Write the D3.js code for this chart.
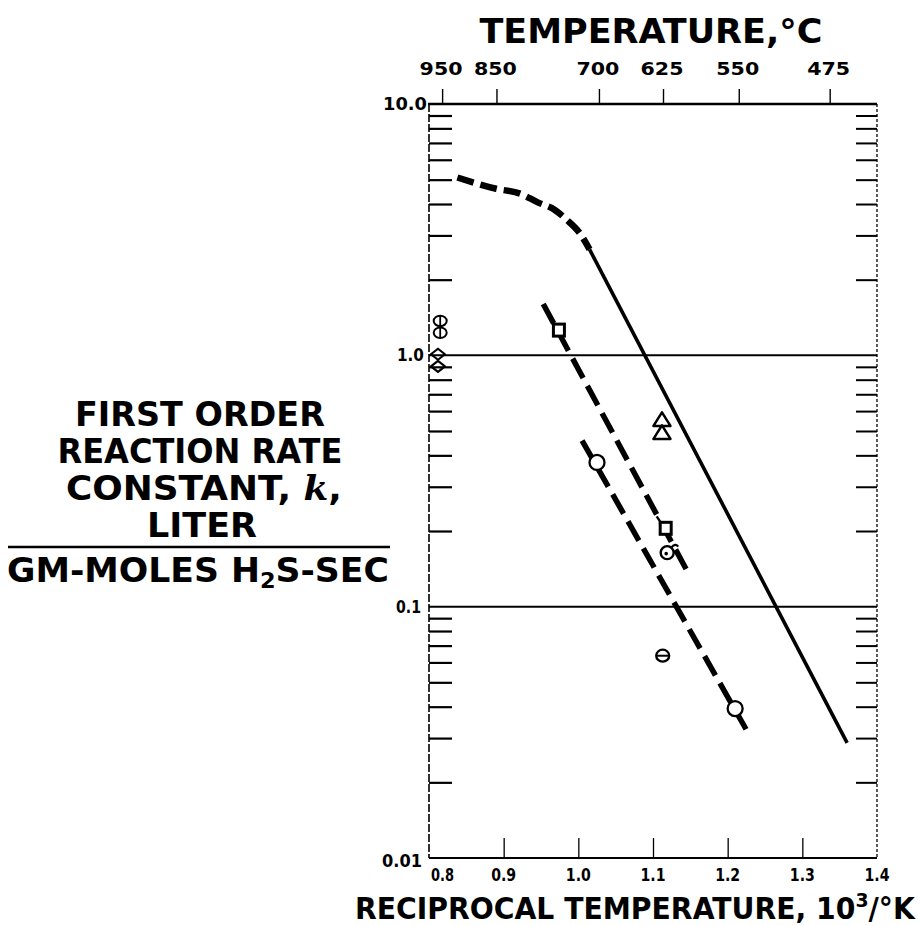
<!DOCTYPE html>
<html>
<head>
<meta charset="utf-8">
<script src="https://cdn.jsdelivr.net/npm/d3@7"></script>
<style>
  html, body { margin: 0; padding: 0; background: #fff; }
  svg { display: block; }
  text { font-family: "DejaVu Sans", Verdana, sans-serif; font-weight: bold; fill: #000; }
</style>
</head>
<body>
<svg id="chart" width="918" height="926"></svg>
<script>
// Reciprocal temperature (10^3/°K) axis and rate constant axis
const xTicks = [0.8, 0.9, 1.0, 1.1, 1.2, 1.3, 1.4];
const xTickLabels = ["0.8", "0.9", "1.0", "1.1", "1.2", "1.3", "1.4"];
const yMajor = [10, 1, 0.1, 0.01];
const yMajorLabels = ["10.0", "1.0", "0.1", "0.01"];
const tempTicksC = [950, 850, 700, 625, 550, 475];

// Correlation curves: [1000/T, k]
const solidLine = [[1.015, 2.64], [1.36, 0.0287]];
const upperDashed = [[0.838, 5.1], [0.89, 4.6], [0.922, 4.4], [0.945, 4.07], [0.969, 3.78], [0.985, 3.45], [1.002, 3.06], [1.015, 2.64]];
const middleDashed = [[0.953, 1.6], [1.149, 0.133]];
const lowerDashed = [[1.005, 0.458], [1.230, 0.0305]];

// Experimental points: [1000/T, k]
const circles = [[1.025, 0.375], [1.210, 0.0393]];
const barredCircles = [[1.113, 0.0638]];
const triangles = [[1.112, 0.551], [1.112, 0.489]];
const squares = [[0.974, 1.26], [1.117, 0.205]];
const dottedCircles = [[1.119, 0.164]];
const doubleCircles = [[0.815, 1.37], [0.815, 1.23]];
const diamonds = [[0.812, 1.01], [0.812, 0.904]];

const svg = d3.select("#chart");
svg.append("rect").attr("width", 918).attr("height", 926).attr("fill", "#fff");

const plotL = 429, plotR = 877, plotT = 104, plotB = 858;
const x = d3.scaleLinear().domain([0.8, 1.4]).range([plotL, plotR]);
const y = d3.scaleLog().domain([0.01, 10]).range([plotB, plotT]);

// minor decade ticks 2..9 in each decade
const minorTicks = [];
[0.01, 0.1, 1].forEach(d => { for (let m = 2; m <= 9; m++) minorTicks.push(+(d * m).toPrecision(3)); });

// text helper: squeeze/stretch a label to a given width
function fitLabel(g, anchorX, baseline, width, anchor) {
  const bb = g.node().getBBox();
  const sx = width / bb.width;
  let tx;
  if (anchor === "middle") tx = anchorX - (bb.x + bb.width / 2) * sx;
  else if (anchor === "end") tx = anchorX - (bb.x + bb.width) * sx;
  else tx = anchorX - bb.x * sx;
  g.attr("transform", `translate(${tx},${baseline}) scale(${sx},1)`);
}
function label(str, size, anchorX, baseline, width, anchor) {
  const g = svg.append("g");
  g.append("text").attr("font-size", size).text(str);
  fitLabel(g, anchorX, baseline, width, anchor || "middle");
  return g;
}

// ---- frame ----
const frame = svg.append("g").attr("stroke", "#000").attr("fill", "none");
frame.append("line").attr("x1", plotL - 1).attr("x2", plotR).attr("y1", plotT).attr("y2", plotT).attr("stroke-width", 2.5);
frame.append("line").attr("x1", plotL).attr("x2", plotR).attr("y1", plotB).attr("y2", plotB).attr("stroke-width", 2);
frame.append("line").attr("x1", plotL).attr("x2", plotL).attr("y1", plotT).attr("y2", plotB).attr("stroke-width", 1.6).attr("stroke-dasharray", "8,2");
frame.append("line").attr("x1", plotR).attr("x2", plotR).attr("y1", plotT).attr("y2", plotB).attr("stroke-width", 1.3).attr("stroke-dasharray", "3,2");

// horizontal rules at the decades
svg.append("g").selectAll("line").data([1, 0.1]).join("line")
  .attr("x1", plotL).attr("x2", plotR)
  .attr("y1", d => y(d)).attr("y2", d => y(d))
  .attr("stroke", "#000").attr("stroke-width", 2);

// ---- axes ----
function styleAxis(g, w) {
  g.select(".domain").remove();
  g.selectAll(".tick line").attr("stroke", "#000").attr("stroke-width", w);
  g.selectAll(".tick text").remove();
}
const leftAxis = svg.append("g").attr("transform", `translate(${plotL},0)`)
  .call(d3.axisRight(y).tickValues(minorTicks).tickSize(23).tickFormat(""));
styleAxis(leftAxis, 2.2);
const rightAxis = svg.append("g").attr("transform", `translate(${plotR},0)`)
  .call(d3.axisLeft(y).tickValues(minorTicks).tickSize(21).tickFormat(""));
styleAxis(rightAxis, 2);
const bottomAxis = svg.append("g").attr("transform", `translate(0,${plotB})`)
  .call(d3.axisBottom(x).tickValues(xTicks.slice(1, -1)).tickSize(-20).tickFormat(""));
styleAxis(bottomAxis, 1.3);
const tempToX = c => 1000 / (c + 273.15);
const topAxis = svg.append("g").attr("transform", `translate(0,${plotT})`)
  .call(d3.axisTop(x).tickValues(tempTicksC.map(tempToX)).tickSize(15).tickFormat(""));
styleAxis(topAxis, 1.4);

// tick labels
tempTicksC.forEach(c => label(String(c), 18, x(tempToX(c)) - 1, 75, 43, "middle"));
xTicks.forEach((v, i) => {
  if (i === 0) label(xTickLabels[i], 18, x(v) + 2, 881, 23, "start");
  else label(xTickLabels[i], 18, x(v), 881, 25, "middle");
});
const yLabelPos = [{ right: 427, dy: 6, w: 44 }, { right: 424, dy: 6, w: 27 }, { right: 421, dy: 6, w: 25 }, { right: 422, dy: 9, w: 40 }];
yMajor.forEach((v, i) => {
  const p = yLabelPos[i];
  label(yMajorLabels[i], 18, p.right, y(v) + p.dy, p.w, "end");
});

// ---- axis titles ----
label("TEMPERATURE,°C", 34, 651, 43, 343, "middle");

(function () {
  const g = svg.append("g");
  const t = g.append("text").attr("font-size", 30);
  t.append("tspan").text("RECIPROCAL TEMPERATURE, 10");
  t.append("tspan").attr("font-size", 20).attr("dy", -12).text("3");
  t.append("tspan").attr("dy", 12).text("/°K");
  fitLabel(g, 636, 919, 562, "middle");
})();

// rate constant title block
const yl = 200;
label("FIRST ORDER", 34, yl, 426, 250, "middle");
label("REACTION RATE", 34, yl, 463, 285, "middle");
(function () {
  const g = svg.append("g");
  const t = g.append("text").attr("font-size", 34);
  t.append("tspan").text("CONSTANT, ");
  t.append("tspan").attr("font-family", "DejaVu Serif").attr("font-style", "italic").text("k");
  t.append("tspan").text(",");
  fitLabel(g, yl + 4, 500, 276, "middle");
})();
label("LITER", 34, yl + 2, 537, 110, "middle");
svg.append("line").attr("x1", 8).attr("x2", 390).attr("y1", 547).attr("y2", 547)
  .attr("stroke", "#000").attr("stroke-width", 2.5);
(function () {
  const g = svg.append("g");
  const t = g.append("text").attr("font-size", 34);
  t.append("tspan").text("GM-MOLES H");
  t.append("tspan").attr("font-size", 22).attr("dy", 6).text("2");
  t.append("tspan").attr("dy", -6).text("S-SEC");
  fitLabel(g, 198, 582, 382, "middle");
})();

// ---- curves ----
const line = d3.line().x(d => x(d[0])).y(d => y(d[1]));
const lineCurve = d3.line().x(d => x(d[0])).y(d => y(d[1])).curve(d3.curveMonotoneX);
svg.append("path").datum(solidLine).attr("d", line)
  .attr("fill", "none").attr("stroke", "#000").attr("stroke-width", 3.6);
svg.append("path").datum(upperDashed).attr("d", lineCurve)
  .attr("fill", "none").attr("stroke", "#000").attr("stroke-width", 6.5).attr("stroke-dasharray", "17,7");
[middleDashed, lowerDashed].forEach(seg => {
  svg.append("path").datum(seg).attr("d", line)
    .attr("fill", "none").attr("stroke", "#000").attr("stroke-width", 5.5).attr("stroke-dasharray", "22,9");
});

// ---- data points ----
const pts = svg.append("g").attr("fill", "#fff").attr("stroke", "#000");
pts.selectAll("circle.open").data(circles).join("circle").attr("class", "open")
  .attr("cx", d => x(d[0])).attr("cy", d => y(d[1])).attr("r", 7.5).attr("stroke-width", 2.3);

barredCircles.forEach(d => {
  const cx = x(d[0]), cy = y(d[1]);
  pts.append("ellipse").attr("cx", cx).attr("cy", cy).attr("rx", 6.5).attr("ry", 6).attr("stroke-width", 2.3);
  pts.append("line").attr("x1", cx - 6.5).attr("x2", cx + 6.5).attr("y1", cy).attr("y2", cy).attr("stroke-width", 2);
});

triangles.forEach(d => {
  const cx = x(d[0]), cy = y(d[1]);
  pts.append("path").attr("d", `M${cx},${cy - 8}L${cx + 8.5},${cy + 5.5}L${cx - 8.5},${cy + 5.5}Z`)
    .attr("stroke-width", 2.5).attr("stroke-linejoin", "round");
});

squares.forEach(d => {
  const cx = x(d[0]), cy = y(d[1]);
  pts.append("rect").attr("x", cx - 5.5).attr("y", cy - 6).attr("width", 11).attr("height", 12).attr("stroke-width", 3);
  pts.append("line").attr("x1", cx - 5).attr("y1", cy - 6).attr("x2", cx - 9).attr("y2", cy - 12).attr("stroke-width", 2.4);
});

dottedCircles.forEach(d => {
  const cx = x(d[0]), cy = y(d[1]);
  pts.append("circle").attr("cx", cx).attr("cy", cy).attr("r", 6.5).attr("stroke-width", 2.4);
  pts.append("circle").attr("cx", cx - 1).attr("cy", cy + 1).attr("r", 1.8).attr("fill", "#000").attr("stroke", "none");
  pts.append("path").attr("d", `M${cx + 4},${cy - 5}Q${cx + 8},${cy - 10} ${cx + 11},${cy - 6}`).attr("fill", "none").attr("stroke-width", 2.2);
});

doubleCircles.forEach(d => {
  const cx = x(d[0]), cy = y(d[1]);
  pts.append("ellipse").attr("cx", cx).attr("cy", cy).attr("rx", 6.5).attr("ry", 5.2).attr("stroke-width", 2);
  pts.append("line").attr("x1", cx).attr("x2", cx).attr("y1", cy - 5).attr("y2", cy + 5).attr("stroke-width", 1.8);
});

diamonds.forEach(d => {
  const cx = x(d[0]), cy = y(d[1]);
  pts.append("path").attr("d", `M${cx},${cy - 5.5}L${cx + 7},${cy}L${cx},${cy + 5.5}L${cx - 7},${cy}Z`)
    .attr("fill", "none").attr("stroke-width", 2.2).attr("stroke-linejoin", "round");
});
</script>
</body>
</html>
